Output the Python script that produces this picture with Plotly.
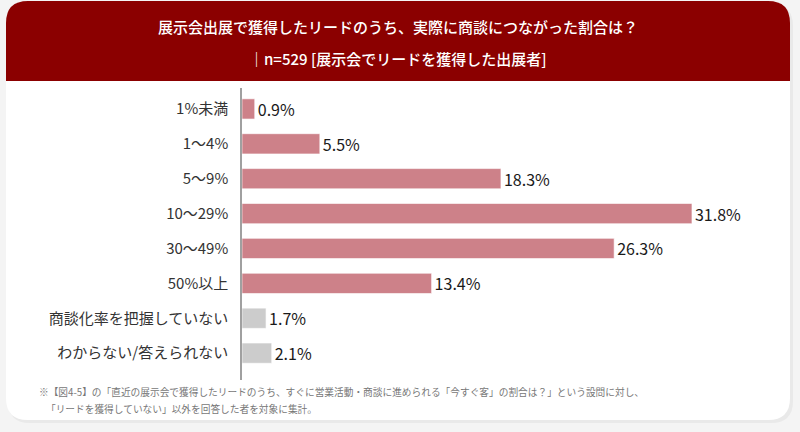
import plotly.graph_objects as go

categories = ["1%未満", "1～4%", "5～9%", "10～29%", "30～49%", "50%以上",
              "商談化率を把握していない", "わからない/答えられない"]
values = [0.9, 5.5, 18.3, 31.8, 26.3, 13.4, 1.7, 2.1]
bar_colors = ["#CD8189"] * 6 + ["#CCCCCC"] * 2

title_line1 = "展示会出展で獲得したリードのうち、実際に商談につながった割合は？"
title_line2 = "｜n=529 [展示会でリードを獲得した出展者]"
note_line1 = "※【図4-5】の「直近の展示会で獲得したリードのうち、すぐに営業活動・商談に進められる「今すぐ客」の割合は？」という設問に対し、"
note_line2 = "「リードを獲得していない」以外を回答した者を対象に集計。"

W, H = 800, 432
L, R, T, B = 242, 40, 88, 52
PW, PH = W - L - R, H - T - B
FONT = "Noto Sans CJK JP, Noto Sans, sans-serif"


def px(x):
    return (x - L) / PW


def py(y):
    return (H - B - y) / PH


def rounded_path(x0, y0, x1, y1, r, top=True, bottom=True):
    rt = r if top else 0
    rb = r if bottom else 0
    pts = []
    pts.append(f"M {px(x0)},{py(y0 + rt)}")
    if rt:
        pts.append(f"Q {px(x0)},{py(y0)} {px(x0 + rt)},{py(y0)}")
    pts.append(f"L {px(x1 - rt)},{py(y0)}")
    if rt:
        pts.append(f"Q {px(x1)},{py(y0)} {px(x1)},{py(y0 + rt)}")
    pts.append(f"L {px(x1)},{py(y1 - rb)}")
    if rb:
        pts.append(f"Q {px(x1)},{py(y1)} {px(x1 - rb)},{py(y1)}")
    pts.append(f"L {px(x0 + rb)},{py(y1)}")
    if rb:
        pts.append(f"Q {px(x0)},{py(y1)} {px(x0)},{py(y1 - rb)}")
    pts.append("Z")
    return " ".join(pts)


fig = go.Figure()
fig.add_trace(go.Bar(
    y=categories, x=values, orientation="h",
    marker=dict(color=bar_colors, line=dict(color="rgba(255,255,255,0.6)", width=1)),
    width=0.58,
    texttemplate="%{x:.1f}%", textposition="outside", constraintext="none",
    textfont=dict(family=FONT, size=16, color="#1A1A1A"),
    cliponaxis=False, hoverinfo="skip",
))

shapes = [
    dict(type="path", xref="paper", yref="paper", layer="below",
         path=rounded_path(8, 4, 793, 423, 22), fillcolor="#E9E9E9", line=dict(width=0)),
    dict(type="path", xref="paper", yref="paper", layer="below",
         path=rounded_path(6, 1, 790, 420, 22), fillcolor="#FFFFFF", line=dict(width=0)),
    dict(type="path", xref="paper", yref="paper", layer="below",
         path=rounded_path(6, 1, 790, 81, 22, bottom=False), fillcolor="#8B0000", line=dict(width=0)),
]

annotations = [
    dict(text=title_line1, xref="paper", yref="paper", x=px(398), y=py(26),
         showarrow=False, font=dict(family=FONT, size=15, color="#FFFFFF", weight=500),
         xanchor="center", yanchor="middle"),
    dict(text=title_line2, xref="paper", yref="paper", x=px(398), y=py(58),
         showarrow=False, font=dict(family=FONT, size=15, color="#FFFFFF", weight=500),
         xanchor="center", yanchor="middle"),
    dict(text=note_line1, xref="paper", yref="paper", x=px(37), y=py(392),
         showarrow=False, font=dict(family=FONT, size=9.7, color="#777777"),
         xanchor="left", yanchor="middle"),
    dict(text=note_line2, xref="paper", yref="paper", x=px(44), y=py(409),
         showarrow=False, font=dict(family=FONT, size=9.7, color="#777777"),
         xanchor="left", yanchor="middle"),
]

fig.update_layout(
    width=W, height=H,
    margin=dict(l=L, r=R, t=T, b=B),
    paper_bgcolor="#F4F4F4", plot_bgcolor="rgba(0,0,0,0)",
    showlegend=False,
    shapes=shapes, annotations=annotations,
    xaxis=dict(range=[0, PW / 14.15], visible=False, fixedrange=True),
    yaxis=dict(categoryorder="array", categoryarray=categories,
               range=[7.77, -0.60], showline=True, linecolor="#A0A0A0", linewidth=1.5,
               showgrid=False, zeroline=False, ticks="", ticklabelstandoff=9,
               tickfont=dict(family=FONT, size=15, color="#333333"), fixedrange=True),
    font=dict(family=FONT),
)

fig.write_html("out.html")
